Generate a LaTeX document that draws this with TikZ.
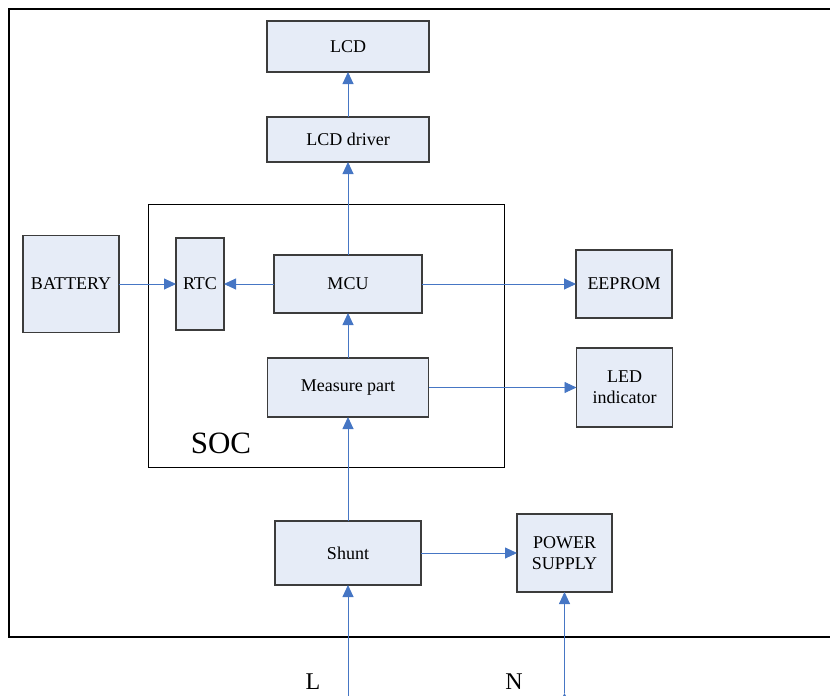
\documentclass[tikz,border=0pt]{standalone}
\usepackage{fontspec}
\setmainfont{Liberation Serif}
\usepackage{tikz}
\usetikzlibrary{positioning}
\usetikzlibrary{arrows.meta}
\definecolor{boxfill}{RGB}{230,236,247}
\definecolor{boxline}{RGB}{60,60,60}
\definecolor{wireblue}{RGB}{70,118,196}
\tikzset{block/.style={rectangle,draw=boxline,fill=boxfill,line width=1.1pt,inner sep=0pt,outer sep=0pt,align=center,font=\fontsize{18}{21}\selectfont},}
\tikzset{pin label/.style={font=\fontsize{24}{24}\selectfont},}

\begin{document}
\begin{tikzpicture}[x=1pt, y=-1pt, >={Triangle[length=12pt,width=11pt]}, node distance=1cm]
	\useasboundingbox (0,0) rectangle (830,696);
	% frame, open on the right
	\draw[line width=1.2pt] (830,9) -- (9,9) -- (9,637) -- (830,637);

	\node[draw=black, line width=1pt, minimum width=356pt, minimum height=263pt, inner sep=0pt] (soc) at (326,335.5) {};
	\node[font=\fontsize{31}{31}\selectfont] (soclabel) at (221,443) {SOC};

	\node[block, minimum width=148pt, minimum height=58pt] (mcu) at (348,284) {MCU};
	\node[block, minimum width=162pt, minimum height=45pt] (lcddrv) [above = 93pt of mcu] {LCD driver};
	\node[block, minimum width=162pt, minimum height=51pt] (lcd) [above = 45pt of lcddrv] {LCD};
	\node[block, minimum width=161pt, minimum height=59pt] (meas) [below = 45pt of mcu] {Measure part};
	\node[block, minimum width=48pt, minimum height=92pt] (rtc) [left = 50pt of mcu] {RTC};
	\node[block, minimum width=96pt, minimum height=97pt] (battery) [left = 57pt of rtc] {BATTERY};
	\node[block, minimum width=96pt, minimum height=68pt] (eeprom) [right = 154pt of mcu] {EEPROM};
	\node[block, minimum width=96pt, minimum height=79pt] (led) [right = 148pt of meas] {LED\\indicator};
	\node[block, minimum width=146pt, minimum height=64pt] (shunt) [below = 104pt of meas] {Shunt};
	\node[block, minimum width=95pt, minimum height=78pt] (power) [right = 96pt of shunt] {POWER\\SUPPLY};

	\coordinate (lin) at (shunt.south |- 0,696);
	\coordinate (nin) at (power.south |- 0,693);
	\node[pin label] (llabel) at (313,682) {L};
	\node[pin label] (nlabel) at (514,682) {N};

	\path[draw, wireblue, line width=0.9pt, ->]
	(battery) edge (rtc)
	(mcu) edge (rtc)
	(mcu) edge (eeprom)
	(mcu) edge (lcddrv)
	(lcddrv) edge (lcd)
	(meas) edge (mcu)
	(meas) edge (led)
	(shunt) edge (meas)
	(shunt) edge (power)
	(lin) edge (shunt)
	(nin) edge (power);
\end{tikzpicture}
\end{document}
